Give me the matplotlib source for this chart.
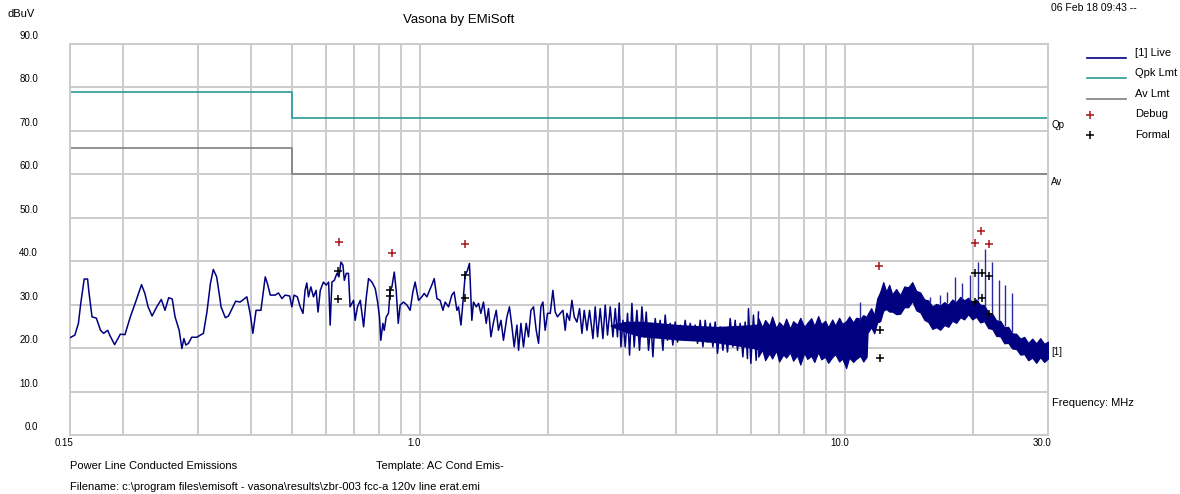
import matplotlib
matplotlib.use('Agg')
import matplotlib.pyplot as plt
from matplotlib.lines import Line2D
from matplotlib.ticker import NullLocator
from matplotlib.transforms import ScaledTranslation

plt.rcParams['font.family'] = ['Liberation Sans', 'DejaVu Sans']

# ── limit lines (MHz, dBuV) ────────────────────────────────────────────────
qp_f = [0.15, 0.5, 0.5, 30.0]
qp_db = [79, 79, 73, 73]
av_f = [0.15, 0.5, 0.5, 30.0]
av_db = [66, 66, 60, 60]

# ── live trace, low-frequency part ─────────────────────────────────────────
trace_f = [
    0.150, 0.154, 0.157, 0.159, 0.162, 0.165, 0.166, 0.169, 0.173, 0.177,
    0.180, 0.184, 0.186, 0.191, 0.197, 0.202, 0.208, 0.214, 0.221, 0.225,
    0.229, 0.234, 0.240, 0.246, 0.251, 0.256, 0.261, 0.265, 0.271, 0.275,
    0.278, 0.281, 0.285, 0.290, 0.298, 0.304, 0.309, 0.315, 0.321, 0.326,
    0.332, 0.337, 0.340, 0.348, 0.354, 0.361, 0.368, 0.377,
    0.391, 0.398, 0.404, 0.411, 0.422, 0.432, 0.437, 0.444, 0.456, 0.464,
    0.473, 0.481, 0.493, 0.499, 0.505, 0.514, 0.522, 0.530, 0.536, 0.541,
    0.546, 0.553, 0.561, 0.569, 0.575, 0.582, 0.592, 0.601, 0.609, 0.614,
    0.620, 0.628, 0.637, 0.644, 0.651, 0.658, 0.663, 0.670, 0.678, 0.684,
    0.697, 0.703, 0.712, 0.723, 0.736, 0.747, 0.756, 0.770, 0.784, 0.794,
    0.802, 0.808, 0.817, 0.823, 0.832, 0.842, 0.850, 0.858, 0.869, 0.878,
    0.888, 0.897, 0.914, 0.931, 0.947, 0.961, 0.973, 0.991,
    1.009, 1.022, 1.037, 1.052, 1.065, 1.079, 1.095, 1.114, 1.131, 1.145,
    1.166, 1.187, 1.202, 1.220, 1.231, 1.247, 1.260, 1.276, 1.292, 1.306,
    1.323, 1.335, 1.355, 1.372, 1.389, 1.409, 1.430, 1.448, 1.467, 1.488,
    1.510, 1.528, 1.549, 1.570, 1.600, 1.622, 1.644, 1.664, 1.689, 1.704,
    1.726, 1.750, 1.776, 1.798, 1.822, 1.848, 1.875, 1.899, 1.923, 1.944,
    1.968, 1.993, 2.023, 2.052, 2.078, 2.104, 2.135, 2.167, 2.194, 2.214,
    2.246, 2.275, 2.304, 2.338, 2.371, 2.402, 2.432, 2.468, 2.503,
    2.550, 2.581, 2.614, 2.652, 2.691, 2.725, 2.759, 2.800, 2.841, 2.877,
    2.912, 2.939, 2.967, 2.999, 3.037, 3.075, 3.109, 3.149, 3.188, 3.235,
    3.281, 3.324, 3.366, 3.403, 3.445, 3.490, 3.528, 3.572, 3.617, 3.670,
    3.725, 3.771, 3.818, 3.874, 3.931, 3.981, 4.031, 4.091, 4.151, 4.203,
    4.256, 4.318, 4.382, 4.437, 4.493, 4.559, 4.626, 4.684, 4.742, 4.812,
    4.883, 4.944, 5.006, 5.080, 5.155, 5.219, 5.285, 5.363, 5.442, 5.510,
    5.579, 5.660, 5.744, 5.816, 5.889, 5.921, 5.998, 6.083, 6.173, 6.252,
]
trace_db = [
    22.4, 23.0, 25.7, 30.3, 35.9, 35.9, 33.3, 27.2, 26.9, 24.1,
    23.4, 24.1, 23.0, 20.8, 23.2, 23.1, 27.2, 30.6, 34.6, 32.6,
    29.5, 27.4, 29.5, 31.2, 28.7, 31.6, 31.3, 27.2, 24.1, 19.9,
    22.2, 20.7, 21.1, 22.5, 22.5, 23.0, 23.4, 28.3, 34.9, 38.1,
    36.4, 32.2, 29.5, 27.0, 27.4, 29.1, 30.8, 30.6,
    31.8, 28.0, 23.4, 28.7, 28.7, 36.4, 34.9, 32.2, 32.2, 32.7,
    31.4, 32.2, 32.0, 29.5, 32.2, 31.8, 29.5, 28.0, 33.3, 35.0,
    31.8, 34.1, 31.8, 33.3, 28.3, 33.3, 35.2, 34.5, 35.2, 25.3,
    35.2, 35.6, 37.2, 36.4, 39.8, 39.1, 35.6, 37.2, 37.2, 29.5,
    31.0, 26.4, 29.5, 31.0, 24.9, 31.8, 36.0, 35.2, 33.7, 30.6,
    27.2, 21.8, 25.7, 24.1, 27.2, 28.0, 33.3, 34.1, 37.5, 33.3,
    25.7, 29.9, 30.6, 29.9, 28.7, 32.9, 35.2, 31.0,
    31.8, 32.6, 31.8, 33.3, 34.5, 36.0, 31.4, 31.0, 28.7, 30.6,
    29.5, 32.2, 32.9, 28.7, 29.5, 25.3, 30.3, 36.8, 37.9, 39.5,
    26.4, 30.6, 29.5, 30.3, 28.0, 30.6, 25.7, 29.1, 22.6, 26.0,
    28.7, 24.1, 26.4, 21.8, 27.2, 29.5, 24.9, 20.3, 25.3, 19.5,
    25.7, 20.3, 25.7, 22.6, 28.7, 29.5, 24.1, 21.1, 29.5, 30.6,
    24.1, 28.0, 28.0, 33.3, 28.3, 27.2, 28.0, 28.7, 24.1, 28.0,
    26.4, 31.0, 27.2, 26.0, 29.1, 23.4, 28.7, 24.1, 28.7,
    22.2, 29.5, 22.6, 29.1, 22.2, 29.9, 23.0, 29.5, 22.6, 29.1,
    22.6, 30.4, 20.3, 26.4, 20.3, 28.0, 18.4, 30.3, 20.3, 28.7,
    19.5, 29.5, 22.6, 28.3, 19.5, 25.7, 18.0, 26.8, 22.6, 26.4,
    19.5, 27.6, 21.8, 25.7, 20.7, 26.0, 21.4, 25.3, 22.6, 26.4,
    21.8, 25.7, 22.6, 25.3, 21.1, 26.4, 20.3, 26.4, 21.4, 25.7,
    20.3, 26.0, 18.8, 24.9, 19.5, 24.1, 19.1, 26.8, 20.3, 26.4,
    19.5, 25.7, 18.0, 26.0, 17.6, 29.1, 16.5, 27.6, 17.2, 28.3,
]

# solid core of the trace where the sweep is too dense to resolve (2.8-6.3 MHz)
core_f = [2.80, 3.05, 3.3, 3.7, 4.1, 4.5, 5.0, 5.5, 6.0, 6.25]
core_lo = [25.0, 23.6, 22.6, 22.2, 21.8, 21.6, 21.2, 20.6, 20.0, 19.6]
core_hi = [25.4, 26.2, 26.2, 25.8, 25.4, 25.2, 25.0, 25.2, 25.4, 25.6]

# ── live trace, dense high-frequency part: lower / upper envelope ──────────
band_f = [
    6.24, 6.38, 6.48, 6.63, 6.73, 6.88, 6.99, 7.15, 7.26, 7.42,
    7.54, 7.71, 7.84, 8.01, 8.14, 8.32, 8.46, 8.64, 8.78, 8.97,
    9.12, 9.32, 9.47, 9.68, 9.84, 10.05, 10.22, 10.44, 10.61, 10.85,
    11.03, 11.23,
    11.29, 11.51, 11.70, 11.89, 12.09, 12.29, 12.49, 12.69, 12.90, 13.18,
    13.47, 13.77, 14.07, 14.38, 14.69, 15.02, 15.35, 15.68, 16.03, 16.38,
    16.73, 17.10, 17.48, 17.86, 18.25, 18.65, 19.05, 19.47, 19.90, 20.33,
    20.78, 21.24, 21.70, 22.18, 22.66, 23.16, 23.67, 24.18, 24.71, 25.26,
    25.81, 26.38, 26.95, 27.54, 28.15, 28.76, 29.39, 30.0,
]
band_hi = [
    27.0, 24.8, 26.5, 25.2, 27.3, 24.6, 26.0, 25.0, 26.8, 24.5,
    26.2, 25.4, 27.0, 24.9, 25.8, 26.9, 25.1, 27.4, 25.5, 26.3,
    24.8, 26.6, 25.2, 27.0, 25.6, 26.2, 27.3, 25.9, 27.0, 26.8,
    27.6, 27.2,
    27.8, 29.2, 27.6, 31.4, 33.0, 35.2, 33.0, 34.6, 32.4, 33.6,
    32.2, 34.2, 34.0, 35.2, 33.2, 32.8, 31.2, 31.0, 29.6, 30.2,
    29.8, 30.6, 30.0, 31.2, 30.6, 31.8, 31.0, 31.6, 30.6, 31.2,
    30.0, 29.9, 28.2, 27.9, 26.4, 26.3, 24.8, 24.9, 23.4, 23.3,
    22.2, 22.6, 21.2, 22.2, 21.1, 22.3, 21.0, 21.5,
]
band_lo = [
    18.0, 19.6, 17.2, 18.8, 17.6, 19.4, 16.9, 18.5, 17.8, 19.0,
    17.1, 18.3, 16.2, 18.9, 17.5, 18.2, 16.8, 19.1, 17.4, 18.0,
    16.6, 17.9, 18.6, 16.9, 17.6, 15.4, 17.8, 16.8, 17.5, 18.2,
    16.9, 18.0,
    23.5, 24.8, 23.4, 25.9, 26.2, 28.6, 29.0, 28.4, 28.4, 27.8,
    27.9, 29.4, 29.4, 30.8, 28.7, 28.2, 26.5, 26.0, 24.4, 24.8,
    24.2, 25.3, 24.9, 26.3, 25.8, 27.1, 26.6, 27.8, 26.6, 27.2,
    25.9, 26.2, 24.6, 24.4, 22.8, 22.7, 21.1, 21.2, 19.9, 19.8,
    18.5, 18.6, 17.2, 17.8, 16.6, 17.9, 16.8, 17.6,
]

# harmonic spikes sticking out of the band
spike_f = [10.85, 15.79, 16.73, 17.35, 18.15, 18.82, 19.68, 20.52, 21.27,
           22.14, 22.95, 23.80, 24.68]
spike_base = [26.5, 30.5, 30.0, 30.4, 30.6, 31.4, 30.8, 31.0, 29.8,
              27.6, 26.4, 25.0, 23.6]
spike_top = [30.6, 31.8, 32.2, 33.0, 36.4, 34.9, 36.8, 39.8, 42.7,
             39.8, 35.6, 34.5, 32.6]

# ── measurement markers ────────────────────────────────────────────────────
debug_f = [0.645, 0.859, 1.276, 12.02, 20.22, 20.89, 21.82]
debug_db = [44.4, 41.8, 43.9, 38.9, 44.1, 46.9, 43.9]
formal_f = [0.640, 0.640, 0.850, 0.850, 1.276, 1.276, 12.07, 12.07,
            20.24, 20.24, 20.94, 20.94, 21.80, 21.80]
formal_db = [37.8, 31.4, 33.3, 32.0, 36.9, 31.6, 24.1, 17.8,
             37.4, 30.5, 37.2, 31.6, 36.6, 27.8]

# ── axes labels / grid ─────────────────────────────────────────────────────
y_ticks = [0, 10, 20, 30, 40, 50, 60, 70, 80, 90]
y_labels = ['0.0', '10.0', '20.0', '30.0', '40.0', '50.0', '60.0', '70.0', '80.0', '90.0']
x_ticks = [0.15, 1.0, 10.0, 30.0]
x_labels = ['0.15', '1.0', '10.0', '30.0']
grid_f = [0.2, 0.3, 0.4, 0.5, 0.6, 0.7, 0.8, 0.9, 1, 2, 3, 4, 5, 6, 7, 8, 9, 10, 20]

NAVY = '#000080'
TEAL = '#2b9a9a'
GREY = '#7f7f7f'
DRED = '#a81818'
GRID = '#cbcbcb'

fig = plt.figure(figsize=(11.8, 4.94), dpi=100)
fig.patch.set_facecolor('white')
ax = fig.add_axes([70 / 1180, 59 / 494, 978 / 1180, 391 / 494])
ax.set_xscale('log')
ax.set_xlim(0.15, 30)
ax.set_ylim(0, 90)

for f in grid_f:
    ax.axvline(f, color=GRID, lw=1.4, zorder=0)
for v in y_ticks[1:-1]:
    ax.axhline(v, color=GRID, lw=1.4, zorder=0)
for s in ax.spines.values():
    s.set_edgecolor(GRID)
    s.set_linewidth(1.4)

ax.plot(qp_f, qp_db, color=TEAL, lw=1.2, zorder=2)
ax.plot(av_f, av_db, color=GREY, lw=1.2, zorder=2)

ax.plot(trace_f, trace_db, color=NAVY, lw=1.1, zorder=3)
ax.fill_between(core_f, core_lo, core_hi, color=NAVY, lw=0, zorder=3)
ax.fill_between(band_f, band_lo, band_hi, color=NAVY, lw=0.8, zorder=3)
ax.vlines(spike_f, spike_base, spike_top, color='#2a2aa0', lw=1.0, zorder=3)

ax.plot(debug_f, debug_db, ls='none', marker='+', color=DRED, ms=6, mew=1.1, zorder=5)
ax.plot(formal_f, formal_db, ls='none', marker='+', color='black', ms=6, mew=1.1, zorder=5)

# ticks: no marks, labels nudged like the original
ax.set_yticks(y_ticks)
ax.set_yticklabels(y_labels, fontsize=7)
ax.set_xticks(x_ticks)
ax.set_xticklabels(x_labels, fontsize=7)
ax.xaxis.set_minor_locator(NullLocator())
ax.tick_params(axis='y', length=0, pad=23)
ax.tick_params(axis='x', length=0, pad=2.5)
for lab in ax.get_yticklabels():
    lab.set_transform(lab.get_transform() + ScaledTranslation(0, 0.09, fig.dpi_scale_trans))
for lab in ax.get_xticklabels():
    lab.set_transform(lab.get_transform() + ScaledTranslation(-0.06, 0, fig.dpi_scale_trans))

# ── overlay in pixel coordinates for the surrounding texts and legend ─────
ov = fig.add_axes([0, 0, 1, 1])
ov.set_xlim(0, 1180)
ov.set_ylim(494, 0)
ov.axis('off')
ov.patch.set_visible(False)

ov.text(8, 14, 'dBuV', fontsize=8, va='center', ha='left')
ov.text(459, 20, 'Vasona by EMiSoft', fontsize=9.5, va='center', ha='center')
ov.text(1051, 8, '06 Feb 18 09:43 --', fontsize=7.5, va='center', ha='left')

leg_items = [('[1] Live', NAVY), ('Qpk Lmt', TEAL), ('Av Lmt', GREY)]
for i, (name, col) in enumerate(leg_items):
    yy = 53 + i * 20.5
    ov.add_line(Line2D([1087, 1126], [yy + 5, yy + 5], color=col, lw=1.2))
    ov.text(1135, yy, name, fontsize=8, va='center', ha='left')
ov.plot([1090], [115], ls='none', marker='+', color=DRED, ms=6, mew=1.1)
ov.text(1135, 114, 'Debug', fontsize=8, va='center', ha='left')
ov.plot([1090], [135], ls='none', marker='+', color='black', ms=6, mew=1.1)
ov.text(1135, 135, 'Formal', fontsize=8, va='center', ha='left')

ov.text(1051, 125, 'Qp', fontsize=7, va='center', ha='left')
ov.text(1051, 182, 'Av', fontsize=7, va='center', ha='left')
ov.text(1051, 352, '[1]', fontsize=7, va='center', ha='left')
ov.text(1052, 403, 'Frequency: MHz', fontsize=8, va='center', ha='left')

ov.text(70, 466, 'Power Line Conducted Emissions', fontsize=8, va='center', ha='left')
ov.text(376, 466, 'Template: AC Cond Emis-', fontsize=8, va='center', ha='left')
ov.text(70, 487, r'Filename: c:\program files\emisoft - vasona\results\zbr-003 fcc-a 120v line erat.emi',
        fontsize=8, va='center', ha='left')

fig.savefig('out.png', dpi=100, facecolor='white')
